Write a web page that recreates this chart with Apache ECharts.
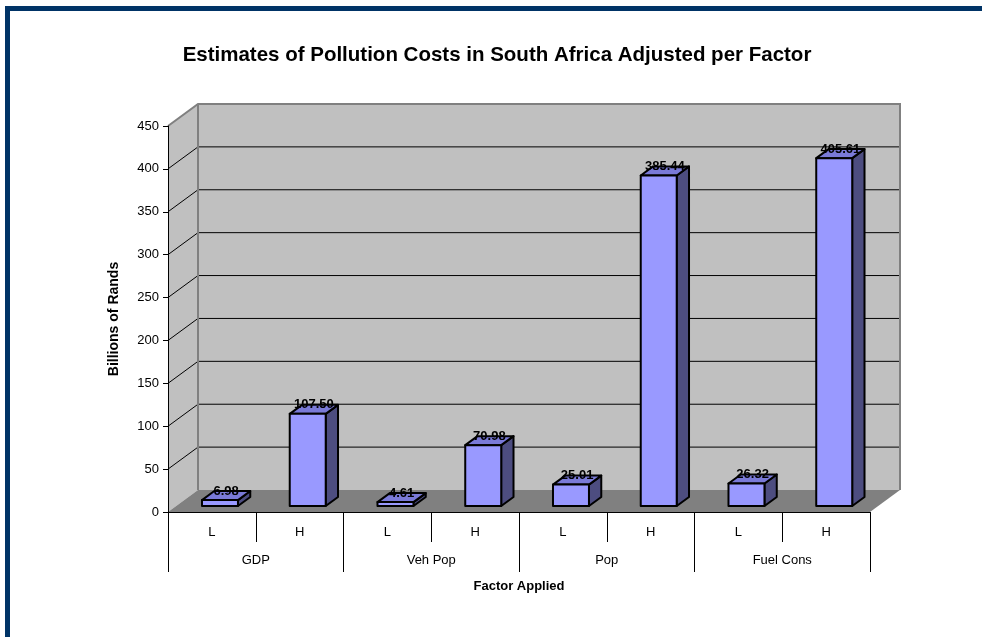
<!DOCTYPE html>
<html>
<head>
<meta charset="utf-8">
<title>Estimates of Pollution Costs in South Africa Adjusted per Factor</title>
<script src="https://cdn.jsdelivr.net/npm/echarts@6/dist/echarts.min.js"></script>
<style>
  html, body { margin: 0; padding: 0; background: #ffffff; }
  #chart { width: 982px; height: 637px; }
</style>
</head>
<body>
<div id="chart"></div>
<script>
// Low / high estimate for each factor, in billions of rands
const categories = ['L', 'H', 'L', 'H', 'L', 'H', 'L', 'H'];
const groups = ['GDP', 'Veh Pop', 'Pop', 'Fuel Cons'];
const costs = [6.98, 107.50, 4.61, 70.98, 25.01, 385.44, 26.32, 405.61];
const yTicks = [0, 50, 100, 150, 200, 250, 300, 350, 400, 450];

const Y_MAX = yTicks[yTicks.length - 1];
const DEPTH = [30, -22];             // pixel offset from the front plane to the back wall
const BAR_FRONT = 0.27;              // bar front face, as a fraction of the depth
const BAR_BACK = 0.68;               // bar back face
const BAR_WIDTH = 0.41;              // fraction of a category band
const FONT = '"Liberation Sans", Arial, sans-serif';

// Back wall, side wall, floor and the wall gridlines
function renderWalls(params, api) {
  if (params.dataIndex !== 0) return;
  const bw = api.size([1, 0])[0];
  const first = api.coord([0, 0]);
  const last = api.coord([categories.length - 1, 0]);
  const xL = first[0] - bw / 2;
  const xR = last[0] + bw / 2;
  const yB = first[1];
  const yT = api.coord([0, Y_MAX])[1];
  const dx = DEPTH[0], dy = DEPTH[1];
  const children = [];

  children.push({
    type: 'rect',
    shape: { x: xL + dx, y: yT + dy, width: xR - xL, height: yB - yT },
    style: { fill: '#c0c0c0' }
  });
  children.push({
    type: 'polygon',
    shape: { points: [[xL, yT], [xL + dx, yT + dy], [xL + dx, yB + dy], [xL, yB]] },
    style: { fill: '#c0c0c0' }
  });

  yTicks.forEach(function (v) {
    if (v === 0 || v === Y_MAX) return;
    const y = api.coord([0, v])[1];
    children.push({
      type: 'polyline',
      shape: { points: [[xL, y], [xL + dx, y + dy], [xR + dx, y + dy]] },
      style: { stroke: '#000', lineWidth: 1, fill: null }
    });
  });

  children.push({
    type: 'polyline',
    shape: { points: [[xL, yT], [xL + dx, yT + dy], [xR + dx, yT + dy], [xR + dx, yB + dy]] },
    style: { stroke: '#808080', lineWidth: 2, fill: null }
  });
  children.push({
    type: 'line',
    shape: { x1: xL + dx, y1: yT + dy, x2: xL + dx, y2: yB + dy },
    style: { stroke: '#808080', lineWidth: 2 }
  });

  children.push({
    type: 'polygon',
    shape: { points: [[xL, yB], [xR, yB], [xR + dx, yB + dy], [xL + dx, yB + dy]] },
    style: { fill: '#808080' }
  });

  return { type: 'group', children: children };
}

// A single 3D column with its value label on the top face
function renderBar(params, api) {
  const idx = api.value(0);
  const v = api.value(1);
  const bw = api.size([1, 0])[0];
  const base = api.coord([idx, 0]);
  const top = api.coord([idx, v]);
  const w = bw * BAR_WIDTH;
  const fx = base[0] - w / 2 + DEPTH[0] * BAR_FRONT;
  const fyB = base[1] + DEPTH[1] * BAR_FRONT;
  const fyT = top[1] + DEPTH[1] * BAR_FRONT;
  const ddx = DEPTH[0] * (BAR_BACK - BAR_FRONT);
  const ddy = DEPTH[1] * (BAR_BACK - BAR_FRONT);
  const edge = { stroke: '#000', lineWidth: 2, lineJoin: 'round' };

  return {
    type: 'group',
    children: [
      {
        type: 'polygon',
        shape: { points: [[fx + w, fyT], [fx + w + ddx, fyT + ddy], [fx + w + ddx, fyB + ddy], [fx + w, fyB]] },
        style: Object.assign({ fill: '#4d4d80' }, edge)
      },
      {
        type: 'polygon',
        shape: { points: [[fx, fyT], [fx + ddx, fyT + ddy], [fx + w + ddx, fyT + ddy], [fx + w, fyT]] },
        style: Object.assign({ fill: '#7a7ad8' }, edge)
      },
      {
        type: 'rect',
        shape: { x: fx, y: fyT, width: w, height: fyB - fyT },
        style: Object.assign({ fill: '#9999ff' }, edge)
      },
      {
        type: 'text',
        style: {
          x: fx + w / 2 + ddx / 2,
          y: fyT + ddy,
          text: v.toFixed(2),
          fill: '#000',
          font: 'bold 13px ' + FONT,
          align: 'center',
          verticalAlign: 'middle'
        }
      }
    ]
  };
}

const chart = echarts.init(document.getElementById('chart'), null, { renderer: 'canvas' });

chart.setOption({
  backgroundColor: '#ffffff',
  animation: false,
  textStyle: { fontFamily: FONT, color: '#000' },
  title: {
    text: 'Estimates of Pollution Costs in South Africa Adjusted per Factor',
    left: 492,
    top: 40,
    textAlign: 'center',
    textStyle: { fontFamily: FONT, fontSize: 20.5, fontWeight: 'bold', color: '#000' }
  },
  graphic: [
    { type: 'rect', shape: { x: 5, y: 6, width: 977, height: 5 }, style: { fill: '#003366' }, z: 100 },
    { type: 'rect', shape: { x: 5, y: 6, width: 5, height: 631 }, style: { fill: '#003366' }, z: 100 }
  ],
  grid: { left: 168, right: 112, top: 126, bottom: 125, containLabel: false },
  xAxis: [
    {
      type: 'category',
      data: categories,
      position: 'bottom',
      z: 10,
      axisLine: { show: true, lineStyle: { color: '#000', width: 1 } },
      axisTick: { show: true, interval: 0, length: 30, lineStyle: { color: '#000' } },
      axisLabel: { interval: 0, margin: 14, fontSize: 13, color: '#000', fontFamily: FONT },
      splitLine: { show: false }
    },
    {
      type: 'category',
      data: groups,
      position: 'bottom',
      offset: 30,
      z: 10,
      axisLine: { show: false },
      axisTick: { show: true, interval: 0, length: 30, lineStyle: { color: '#000' } },
      axisLabel: { interval: 0, margin: 12, fontSize: 13, color: '#000', fontFamily: FONT },
      splitLine: { show: false },
      name: 'Factor Applied',
      nameLocation: 'middle',
      nameGap: 38,
      nameTextStyle: { fontSize: 13, fontWeight: 'bold', color: '#000', fontFamily: FONT }
    }
  ],
  yAxis: {
    type: 'value',
    min: 0,
    max: Y_MAX,
    interval: 50,
    z: 10,
    axisLine: { show: true, lineStyle: { color: '#000', width: 1 } },
    axisTick: { show: true, length: 5, lineStyle: { color: '#000' } },
    axisLabel: { margin: 9, fontSize: 13, color: '#000', fontFamily: FONT },
    splitLine: { show: false },
    name: 'Billions of Rands',
    nameLocation: 'middle',
    nameGap: 47,
    nameTextStyle: { fontSize: 14, fontWeight: 'bold', color: '#000', fontFamily: FONT }
  },
  series: [
    {
      type: 'custom',
      name: 'walls',
      xAxisIndex: 0,
      yAxisIndex: 0,
      clip: false,
      silent: true,
      z: 1,
      renderItem: renderWalls,
      data: [[0, 0]]
    },
    {
      type: 'custom',
      name: 'Cost',
      xAxisIndex: 0,
      yAxisIndex: 0,
      clip: false,
      z: 3,
      renderItem: renderBar,
      encode: { x: 0, y: 1 },
      data: costs.map(function (v, i) { return [i, v]; })
    }
  ]
});
</script>
</body>
</html>
